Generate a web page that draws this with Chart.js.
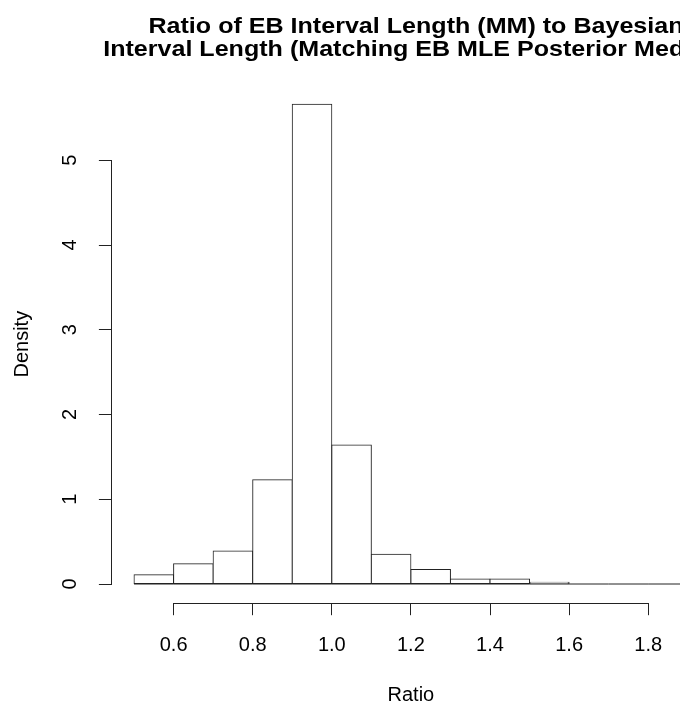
<!DOCTYPE html>
<html>
<head>
<meta charset="utf-8">
<script src="https://cdn.jsdelivr.net/npm/chart.js"></script>
<style>
html, body { margin: 0; padding: 0; overflow: hidden; background: #fff; width: 680px; height: 709px; }
#c { display: block; }
</style>
</head>
<body>
<canvas id="c" width="832" height="709"></canvas>
<script>
// ---- data ----
const breaks = [0.5, 0.6, 0.7, 0.8, 0.9, 1.0, 1.1, 1.2, 1.3, 1.4, 1.5, 1.6, 1.7, 1.8, 1.9];
const densities = [0.11, 0.24, 0.39, 1.23, 5.66, 1.64, 0.35, 0.17, 0.06, 0.06, 0.02, 0, 0, 0];
const xTicks = [0.6, 0.8, 1.0, 1.2, 1.4, 1.6, 1.8];
const xTickLabels = ["0.6", "0.8", "1.0", "1.2", "1.4", "1.6", "1.8"];
const yTicks = [0, 1, 2, 3, 4, 5];
const yTickLabels = ["0", "1", "2", "3", "4", "5"];
const titleLines = ["Ratio of EB Interval Length (MM) to Bayesian", "Interval Length (Matching EB MLE Posterior Median)"];
const xLabel = "Ratio";
const yLabel = "Density";

// ---- R-style axis extents (4% extension) ----
const xRange = breaks[breaks.length - 1] - breaks[0];
const xMin = breaks[0] - 0.04 * xRange;
const xMax = breaks[breaks.length - 1] + 0.04 * xRange;
const yTop = Math.max(...densities);
const yMin = -0.04 * yTop;
const yMax = yTop * 1.04;

const FONT = "'Liberation Sans', Arial, sans-serif";
const lineColor = '#222';
const labelFont = { family: FONT, size: 20, lineHeight: 1.2 };
const titleStretch = 1.14;

const axisLines = {
  id: 'axisLines',
  afterDraw(chart) {
    const { ctx, scales: { x, y } } = chart;
    ctx.save();
    ctx.strokeStyle = lineColor;
    ctx.lineWidth = 1;
    ctx.beginPath();
    const xy = Math.round(x.top) + 0.5;
    ctx.moveTo(x.getPixelForValue(xTicks[0]), xy);
    ctx.lineTo(x.getPixelForValue(xTicks[xTicks.length - 1]), xy);
    const yx = Math.round(y.right) - 0.5;
    ctx.moveTo(yx, y.getPixelForValue(yTicks[0]));
    ctx.lineTo(yx, y.getPixelForValue(yTicks[yTicks.length - 1]));
    ctx.stroke();
    ctx.restore();
  }
};

const chart = new Chart(document.getElementById('c'), {
  data: {
    datasets: [
      {
        type: 'bar',
        data: densities.map((d, i) => ({ x: (breaks[i] + breaks[i + 1]) / 2, y: d })),
        backgroundColor: '#fff',
        borderColor: lineColor,
        borderWidth: 1,
        borderSkipped: false,
        inflateAmount: 0.5,
        barPercentage: 1,
        categoryPercentage: 1,
        order: 1
      },
      {
        type: 'line',
        data: breaks.map(b => ({ x: b, y: 0 })),
        borderColor: lineColor,
        borderWidth: 1,
        pointRadius: 0,
        fill: false,
        order: 0
      }
    ]
  },
  options: {
    responsive: false,
    devicePixelRatio: 1,
    animation: false,
    layout: { padding: 0 },
    plugins: {
      legend: { display: false },
      tooltip: { enabled: false },
      title: {
        display: true,
        text: titleLines,
        color: '#000',
        font: { family: FONT, size: 22, weight: 'bold', lineHeight: 1.045 },
        padding: { top: 15.5, bottom: 23.7 }
      }
    },
    scales: {
      x: {
        type: 'linear',
        position: 'bottom',
        min: xMin,
        max: xMax,
        bounds: 'data',
        offset: false,
        grid: { display: true, offset: false, drawOnChartArea: false, drawTicks: true, tickLength: 12, tickColor: lineColor, tickWidth: 1 },
        border: { display: false },
        afterBuildTicks: s => { s.ticks = xTicks.map(v => ({ value: v })); },
        ticks: { callback: (v, i) => xTickLabels[i], color: '#000', font: labelFont, padding: 18, autoSkip: false, minRotation: 0, maxRotation: 0 },
        title: { display: true, text: xLabel, color: '#000', font: labelFont, padding: { top: 0, bottom: 2 } },
        afterFit: s => { s.height = 105.8; }
      },
      y: {
        type: 'linear',
        position: 'left',
        min: yMin,
        max: yMax,
        bounds: 'data',
        grid: { display: true, drawOnChartArea: false, drawTicks: true, tickLength: 13, tickColor: lineColor, tickWidth: 1 },
        border: { display: false },
        afterBuildTicks: s => { s.ticks = yTicks.map(v => ({ value: v })); },
        ticks: { callback: (v, i) => yTickLabels[i], color: '#000', font: labelFont, padding: 23, autoSkip: false, minRotation: 90, maxRotation: 90, crossAlign: 'center' },
        title: { display: true, text: yLabel, color: '#000', font: labelFont, padding: { top: 10, bottom: 0 } },
        afterFit: s => { s.width = 111.9; }
      },
      y2: {
        type: 'linear',
        position: 'right',
        display: true,
        grid: { display: false },
        ticks: { display: false },
        border: { display: false },
        afterFit: s => { s.width = 122.1; }
      }
    }
  },
  plugins: [axisLines]
});

// widen the title glyphs horizontally (the reference title is drawn wide)
const tb = chart.titleBlock;
if (tb) {
  const origDraw = tb.draw.bind(tb);
  tb.draw = function (...args) {
    const ctx = chart.ctx;
    const cx = (tb.left + tb.right) / 2;
    ctx.save();
    ctx.translate(cx, 0);
    ctx.scale(titleStretch, 1);
    ctx.translate(-cx, 0);
    origDraw(...args);
    ctx.restore();
  };
  chart.draw();
}
</script>
</body>
</html>
